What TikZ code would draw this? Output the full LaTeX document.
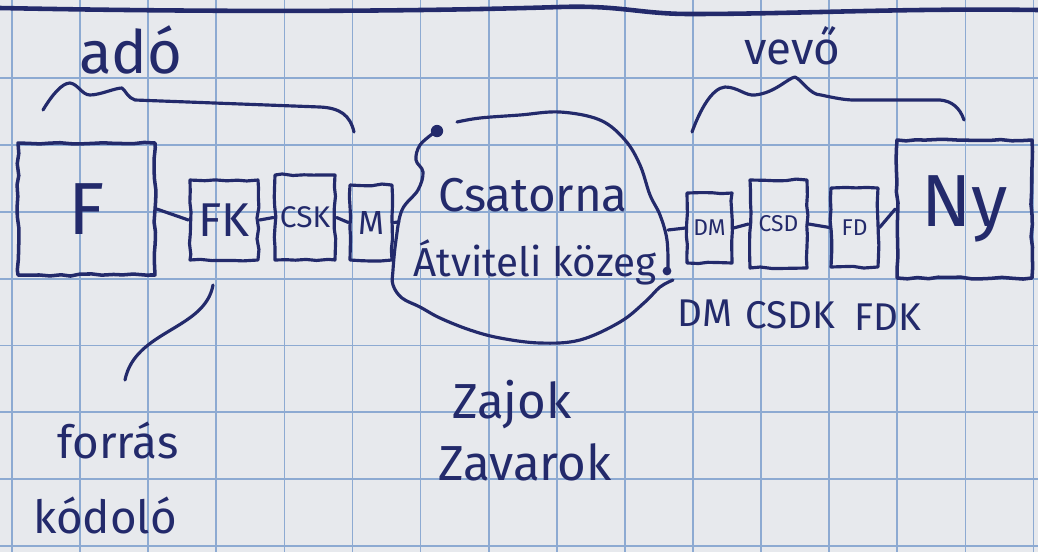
\documentclass[tikz,border=0pt]{standalone}
\usepackage{fontspec}
\setmainfont{Fira Sans}
\usetikzlibrary{decorations.pathmorphing}
\definecolor{pen}{HTML}{232A6B}
\definecolor{paper}{HTML}{E7E9ED}
\definecolor{gridc}{HTML}{8DAAD2}
\newcommand\fsz[1]{\fontsize{#1}{#1}\selectfont}
\begin{document}
\begin{tikzpicture}[x=0.02cm,y=-0.02cm,
  ink/.style={draw=pen,line width=1.8pt,line cap=round,line join=round},
  box/.style={ink,inner sep=0pt,text=pen,decorate,decoration={random steps,segment length=6pt,amplitude=0.6pt}},
  lbl/.style={text=pen,inner sep=0pt}]
% paper and grid
\fill[paper] (0,0) rectangle (1038,552);
\useasboundingbox (0,0) rectangle (1038,552);
\foreach \i in {0,...,15} \draw[gridc,line width=1pt] ({12+68.1*\i},0) -- ({12+68.1*\i},552);
\foreach \j in {1,...,8} \draw[gridc,line width=1pt] (0,{11.5+66.8*\j}) -- (1038,{11.5+66.8*\j});
% top line
\draw[ink,line width=2.6pt] (0,8) .. controls (200,12) and (400,12) .. (560,7) .. controls (620,5) and (640,14) .. (690,14) .. controls (800,14) and (900,8) .. (1038,10);
% labels above
\node[lbl,font=\fsz{34}] (ado) at (131,50) {adó};
\node[lbl,font=\fsz{26}] (vevo) at (792,46) {vevő};
% braces
\draw[ink] (43,110) .. controls (52,95) and (62,83) .. (70,83) .. controls (78,84) and (82,95) .. (90,95) .. controls (100,95) and (115,88) .. (122,88) .. controls (125,90) and (128,98) .. (135,100) -- (320,107) .. controls (340,108) and (350,115) .. (354,132);
\draw[ink] (692,132) .. controls (700,110) and (712,88) .. (725,87) .. controls (738,87) and (745,96) .. (755,95) .. controls (775,93) and (788,78) .. (795,77) .. controls (802,80) and (810,95) .. (821,95) .. controls (835,98) and (845,100) .. (854,100) -- (940,100) .. controls (952,101) and (960,108) .. (964,120);
% transmitter boxes
\node[box,line width=2pt,minimum width=2.74cm,minimum height=2.64cm,font=\fsz{42}] (F) at (86.5,209) {F};
\node[box,minimum width=1.36cm,minimum height=1.6cm,font=\fsz{27}] (FK) at (224,220) {FK};
\node[box,minimum width=1.2cm,minimum height=1.7cm,font=\fsz{17}] (CSK) at (305,217.5) {CSK};
\node[box,minimum width=0.84cm,minimum height=1.5cm,font=\fsz{19}] (M) at (371,222.5) {M};
% receiver boxes
\node[box,minimum width=0.9cm,minimum height=1.4cm,font=\fsz{13}] (DM) at (709.5,228) {DM};
\node[box,minimum width=1.14cm,minimum height=1.76cm,font=\fsz{13}] (CSD) at (778.5,224) {CSD};
\node[box,minimum width=0.94cm,minimum height=1.58cm,font=\fsz{13}] (FD) at (854.5,227.5) {FD};
\node[box,line width=2pt,minimum width=2.7cm,minimum height=2.76cm,font=\fsz{42}] (Ny) at (964.5,209) {Ny};
% channel cloud
\draw[ink] plot[smooth,tension=0.6] coordinates {(435,132) (420,145) (416,160) (423,172) (418,190) (402,210) (396,240) (393,270) (393,285) (402,298) (420,307) (440,318) (470,330) (500,338) (540,343) (580,340) (620,322) (645,302) (660,287) (673,280)};
\draw[ink] plot[smooth,tension=0.6] coordinates {(457,122) (480,118) (520,115) (560,112) (600,120) (625,140) (640,165) (650,195) (660,215) (667,240) (668,270)};
\fill[pen] (437,131) circle (3.5pt);
\fill[pen] (667,271) circle (2.5pt);
\node[lbl,font=\fsz{27}] (csat) at (533,195) {Csatorna};
\node[lbl,font=\fsz{23}] (kozeg) at (535,262) {Átviteli közeg};
\coordinate (cloudL) at (399,222);
\coordinate (cloudR) at (668,230);
% connectors
\draw[ink] (F.east) -- (FK.west);
\draw[ink] (FK.east) -- (CSK.west);
\draw[ink] (CSK.east) -- (M.west);
\draw[ink] (M.east) -- (cloudL);
\draw[ink] (cloudR) -- (DM.west);
\draw[ink] (DM.east) -- (CSD.west);
\draw[ink] (CSD.east) -- (FD.west);
\draw[ink] (FD.east) -- (Ny.west);
% receiver labels
\node[lbl,font=\fsz{22}] (lDM) at (705,313) {DM};
\node[lbl,font=\fsz{22}] (lCSDK) at (790,315) {CSDK};
\node[lbl,font=\fsz{22}] (lFDK) at (888,317) {FDK};
% noise
\node[lbl,font=\fsz{28}] (zaj) at (512,405) {Zajok};
\node[lbl,font=\fsz{28}] (zavar) at (525,462) {Zavarok};
% source coder leader
\coordinate (lead1) at (213,285);
\coordinate (lead2) at (125,380);
\draw[ink] (lead1) .. controls (205,330) and (135,330) .. (lead2);
\node[lbl,font=\fsz{26}] (forras) at (118,440) {forrás};
\node[lbl,font=\fsz{26}] (kodolo) at (105,515) {kódoló};
\end{tikzpicture}
\end{document}
